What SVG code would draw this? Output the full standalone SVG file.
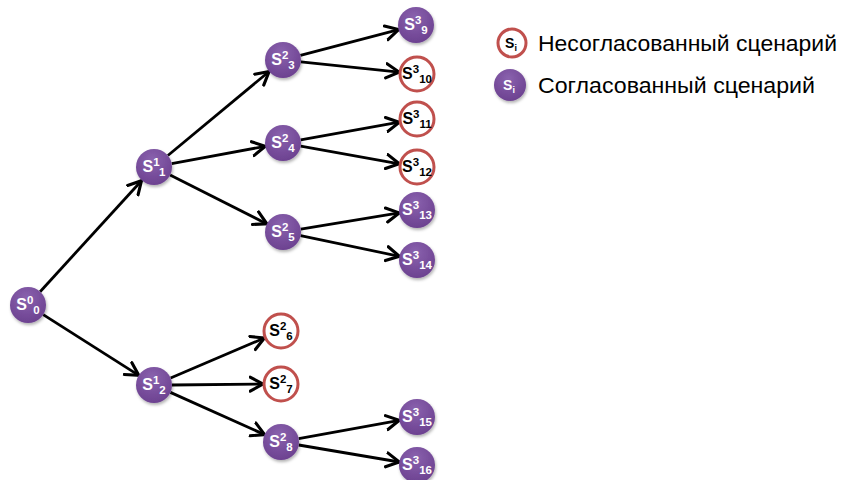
<svg xmlns="http://www.w3.org/2000/svg" width="845" height="480" viewBox="0 0 845 480">
<defs>
<marker id="arr" markerUnits="userSpaceOnUse" markerWidth="18" markerHeight="18" viewBox="0 0 14 14" refX="11" refY="7" orient="auto">
<path d="M1,1.5 L11,7 L1,12.5" fill="none" stroke="#000" stroke-width="2.4" stroke-linejoin="miter" stroke-linecap="round"/>
</marker>
<radialGradient id="pg" cx="0.45" cy="0.3" r="0.75">
<stop offset="0" stop-color="#8a62ae"/>
<stop offset="1" stop-color="#6a3f8e"/>
</radialGradient>
<filter id="sh" x="-30%" y="-30%" width="160%" height="160%">
<feDropShadow dx="1" dy="2" stdDeviation="1.5" flood-color="#000" flood-opacity="0.3"/>
</filter>
</defs>
<style>
.c path, .c line { stroke:#000; stroke-width:2.8; fill:none; marker-end:url(#arr); }
.ok circle { fill:url(#pg); filter:url(#sh); }
.bad circle { fill:#fff; stroke:#c0504d; stroke-width:3; }
.lbl { font-family:"Liberation Sans", Arial, sans-serif; font-weight:bold; font-size:16px; text-anchor:middle; }
.ok .lbl { fill:#fff; }
.bad .lbl { fill:#000; }
.sm { font-size:11.5px; }
.leg { font-family:"Liberation Sans", Arial, sans-serif; font-size:22px; fill:#000; }
</style>
<g class="c" id="connectors">
<line x1="40.1" y1="291.7" x2="141.5" y2="180.7"/>
<line x1="43.2" y1="314.6" x2="138.8" y2="375.4"/>
<line x1="167.9" y1="155.5" x2="269.1" y2="71.5"/>
<line x1="171.7" y1="163.7" x2="265.3" y2="146.3"/>
<line x1="170.1" y1="175.1" x2="266.9" y2="223.9"/>
<line x1="170.6" y1="378" x2="264.4" y2="338"/>
<line x1="172" y1="385" x2="263" y2="384"/>
<line x1="170.4" y1="392.4" x2="264.6" y2="434.6"/>
<line x1="300.4" y1="55.4" x2="398.6" y2="29.6"/>
<line x1="300.9" y1="61.9" x2="399.1" y2="72.1"/>
<line x1="300.7" y1="139.8" x2="399.3" y2="122.2"/>
<line x1="300.7" y1="146.2" x2="399.3" y2="163.8"/>
<line x1="300.8" y1="229.1" x2="399.2" y2="212.9"/>
<line x1="300.6" y1="235.7" x2="399.4" y2="256.3"/>
<line x1="298.7" y1="438.7" x2="399.3" y2="420.3"/>
<line x1="298.7" y1="445" x2="399.3" y2="462"/>
</g>
<g id="s0_0" class="ok"><circle cx="28" cy="305" r="18"/><text class="lbl" x="28" y="310">S<tspan class="sm" dy="-6">0</tspan><tspan class="sm" dy="10">0</tspan></text></g>
<g id="s1_1" class="ok"><circle cx="154" cy="167" r="18"/><text class="lbl" x="154" y="172">S<tspan class="sm" dy="-6">1</tspan><tspan class="sm" dy="10">1</tspan></text></g>
<g id="s1_2" class="ok"><circle cx="154" cy="385" r="18"/><text class="lbl" x="154" y="390">S<tspan class="sm" dy="-6">1</tspan><tspan class="sm" dy="10">2</tspan></text></g>
<g id="s2_3" class="ok"><circle cx="283" cy="60" r="18"/><text class="lbl" x="283" y="65">S<tspan class="sm" dy="-6">2</tspan><tspan class="sm" dy="10">3</tspan></text></g>
<g id="s2_4" class="ok"><circle cx="283" cy="143" r="18"/><text class="lbl" x="283" y="148">S<tspan class="sm" dy="-6">2</tspan><tspan class="sm" dy="10">4</tspan></text></g>
<g id="s2_5" class="ok"><circle cx="283" cy="232" r="18"/><text class="lbl" x="283" y="237">S<tspan class="sm" dy="-6">2</tspan><tspan class="sm" dy="10">5</tspan></text></g>
<g id="s2_6" class="bad"><circle cx="281" cy="331" r="17"/><text class="lbl" x="281" y="336">S<tspan class="sm" dy="-6">2</tspan><tspan class="sm" dy="10">6</tspan></text></g>
<g id="s2_7" class="bad"><circle cx="281" cy="384" r="17"/><text class="lbl" x="281" y="389">S<tspan class="sm" dy="-6">2</tspan><tspan class="sm" dy="10">7</tspan></text></g>
<g id="s2_8" class="ok"><circle cx="281" cy="442" r="18"/><text class="lbl" x="281" y="447">S<tspan class="sm" dy="-6">2</tspan><tspan class="sm" dy="10">8</tspan></text></g>
<g id="s3_9" class="ok"><circle cx="416" cy="25" r="18"/><text class="lbl" x="416" y="30">S<tspan class="sm" dy="-6">3</tspan><tspan class="sm" dy="10">9</tspan></text></g>
<g id="s3_10" class="bad"><circle cx="417" cy="74" r="17"/><text class="lbl" x="417" y="79">S<tspan class="sm" dy="-6">3</tspan><tspan class="sm" dy="10">10</tspan></text></g>
<g id="s3_11" class="bad"><circle cx="417" cy="119" r="17"/><text class="lbl" x="417" y="124">S<tspan class="sm" dy="-6">3</tspan><tspan class="sm" dy="10">11</tspan></text></g>
<g id="s3_12" class="bad"><circle cx="417" cy="167" r="17"/><text class="lbl" x="417" y="172">S<tspan class="sm" dy="-6">3</tspan><tspan class="sm" dy="10">12</tspan></text></g>
<g id="s3_13" class="ok"><circle cx="417" cy="210" r="18"/><text class="lbl" x="417" y="215">S<tspan class="sm" dy="-6">3</tspan><tspan class="sm" dy="10">13</tspan></text></g>
<g id="s3_14" class="ok"><circle cx="417" cy="260" r="18"/><text class="lbl" x="417" y="265">S<tspan class="sm" dy="-6">3</tspan><tspan class="sm" dy="10">14</tspan></text></g>
<g id="s3_15" class="ok"><circle cx="417" cy="417" r="18"/><text class="lbl" x="417" y="422">S<tspan class="sm" dy="-6">3</tspan><tspan class="sm" dy="10">15</tspan></text></g>
<g id="s3_16" class="ok"><circle cx="417" cy="465" r="18"/><text class="lbl" x="417" y="470">S<tspan class="sm" dy="-6">3</tspan><tspan class="sm" dy="10">16</tspan></text></g>
<g id="legend-bad" class="bad"><circle cx="512" cy="43" r="14"/><text class="lbl" x="511" y="48" style="font-size:14px">S<tspan class="sm" style="font-size:9px" dy="3">i</tspan></text><text class="leg" x="538" y="51" textLength="299" lengthAdjust="spacingAndGlyphs">Несогласованный сценарий</text></g>
<g id="legend-ok" class="ok"><circle cx="510" cy="85" r="16"/><text class="lbl" x="509" y="90" style="font-size:14px">S<tspan class="sm" style="font-size:9px" dy="3">i</tspan></text><text class="leg" x="538" y="93" textLength="277" lengthAdjust="spacingAndGlyphs">Согласованный сценарий</text></g>
</svg>
